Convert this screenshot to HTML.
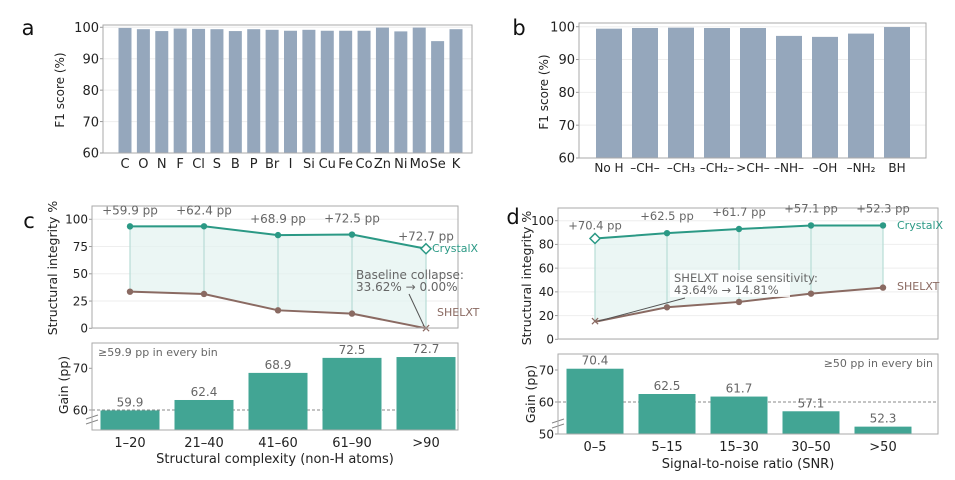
<!DOCTYPE html>
<html><head><meta charset="utf-8"><style>
body{margin:0;background:#fff}
svg{display:block;font-family:"DejaVu Sans","Liberation Sans",sans-serif}
</style></head><body>
<svg id="fig" width="955" height="480" viewBox="0 0 955 480"></svg>
<script>
const elemCats=["C","O","N","F","Cl","S","B","P","Br","I","Si","Cu","Fe","Co","Zn","Ni","Mo","Se","K"];
const elemVals=[99.8,99.4,98.8,99.6,99.5,99.4,98.8,99.4,99.2,98.9,99.2,98.9,98.9,98.9,99.9,98.7,99.9,95.6,99.4];
const hCats=["No H","–CH–","–CH₃","–CH₂–",">CH–","–NH–","–OH","–NH₂","BH"];
const hVals=[99.4,99.6,99.7,99.6,99.6,97.2,96.9,97.9,99.9];
const yTicksF1=[60,70,80,90,100];
const cCats=["1–20","21–40","41–60","61–90",">90"];
const cCrystal=[93.5,93.6,85.5,86,73];
const cShelx=[33.6,31.5,16.5,13.5,0];
const cGain=[59.9,62.4,68.9,72.5,72.7];
const cTopTicks=[0,25,50,75,100];
const cGainTicks=[60,70];
const dCats=["0–5","5–15","15–30","30–50",">50"];
const dCrystal=[85,89.5,93,96,96];
const dShelx=[14.8,27,31.5,38.5,43.6];
const dGain=[70.4,62.5,61.7,57.1,52.3];
const dTopTicks=[0,20,40,60,80,100];
const dGainTicks=[50,60,70];

const NS="http://www.w3.org/2000/svg";
const svg=document.getElementById('fig');
function mk(tag,attrs,parent,text){const e=document.createElementNS(NS,tag);for(const k in attrs)e.setAttribute(k,attrs[k]);if(text!==undefined)e.textContent=text;(parent||svg).appendChild(e);return e;}
function lin(d0,d1,r0,r1){return v=>r0+(v-d0)/(d1-d0)*(r1-r0);}
function band(n,x0,x1,pl,pr){const st=(x1-x0-pl-pr)/(n-1);return i=>x0+pl+i*st;}
const TEAL="#2b9985",BAR="#42a594",BROWN="#8a6a62",GRAY="#95a7bc",TXT="#222",GTXT="#666";

function frame(x0,y0,x1,y1,name){const r=mk('rect',{x:x0,y:y0,width:x1-x0,height:y1-y0,fill:'none',stroke:'#aaa','stroke-width':1});}
function yAxis(ticks,y,x0,x1,size,grid){ticks.forEach(t=>{const yy=y(t);if(grid){const g=mk('line',{x1:x0,x2:x1,y1:yy,y2:yy,stroke:'#eee'});}
const l=mk('line',{x1:x0-3,x2:x0,y1:yy,y2:yy,stroke:'#999'});
const t2=mk('text',{x:x0-4,y:yy+size*0.36,'text-anchor':'end','font-size':size,fill:TXT},undefined,t);});}
function txt(x,y,s,size,fill,anchor,name,rot){const a={x:x,y:y,'font-size':size,fill:fill,'text-anchor':anchor||'middle'};if(rot)a.transform=`rotate(-90 ${x} ${y})`;const t=mk('text',a,undefined,s);return t;}

// Panel a
(function(){const X0=103,X1=472,Y0=25,Y1=153;const y=lin(60,100,153,27.3);const x=band(elemCats.length,X0,X1,22,16);
yAxis(yTicksF1,y,X0,X1,13,true);
elemVals.forEach((v,i)=>{const b=mk('rect',{x:x(i)-6.5,y:y(v),width:13,height:Y1-y(v),fill:GRAY});
txt(x(i),168,elemCats[i],13,TXT,'middle','x-tick-label');});
frame(X0,Y0,X1,Y1,'plot-frame-a');
txt(64,90,'F1 score (%)',12,TXT,'middle','y-axis-title-a',true);
txt(28,35,'a',21,'#111','middle','panel-label-a');})();

// Panel b
(function(){const X0=579,X1=926,Y0=23,Y1=158;const y=lin(60,100,158,26.7);const x=band(hCats.length,X0,X1,30,29);
yAxis(yTicksF1,y,X0,X1,13,true);
hVals.forEach((v,i)=>{const b=mk('rect',{x:x(i)-13,y:y(v),width:26,height:Y1-y(v),fill:GRAY});
txt(x(i),172,hCats[i],12,TXT,'middle','x-tick-label');});
frame(X0,Y0,X1,Y1,'plot-frame-b');
txt(548,92,'F1 score (%)',12,TXT,'middle','y-axis-title-b',true);
txt(519,35,'b',21,'#111','middle','panel-label-b');})();

function linePanel(o){const{X0,X1,Y0,Y1,y,xs,crys,shel,ticks}=o;
yAxis(ticks,y,X0,X1,12,true);
let pts=crys.map((v,i)=>xs(i)+','+y(v)).join(' ')+' '+shel.map((v,i)=>xs(i)+','+y(v)).reverse().join(' ');
const f=mk('polygon',{points:pts,fill:'#e3f2ef','fill-opacity':0.7});
crys.forEach((v,i)=>{const l=mk('line',{x1:xs(i),x2:xs(i),y1:y(v),y2:y(shel[i]),stroke:'#b7ddd6','stroke-width':1.2});});
const lc=mk('polyline',{points:crys.map((v,i)=>xs(i)+','+y(v)).join(' '),fill:'none',stroke:TEAL,'stroke-width':2});
const ls=mk('polyline',{points:shel.map((v,i)=>xs(i)+','+y(v)).join(' '),fill:'none',stroke:BROWN,'stroke-width':2});
crys.forEach((v,i)=>{const cx=xs(i),cy=y(v);let p;if(i===o.hollow){p=mk('polygon',{points:`${cx},${cy-5} ${cx+5},${cy} ${cx},${cy+5} ${cx-5},${cy}`,fill:'#fff',stroke:TEAL,'stroke-width':1.5});}else p=mk('circle',{cx:cx,cy:cy,r:3.2,fill:TEAL});});
shel.forEach((v,i)=>{const cx=xs(i),cy=y(v);let p;if(i===o.hollow){p=mk('text',{x:cx,y:cy+4,'text-anchor':'middle','font-size':12,fill:BROWN,'font-weight':'bold'},undefined,'✕');}else p=mk('circle',{cx:cx,cy:cy,r:3.2,fill:BROWN});});
frame(X0,Y0,X1,Y1,o.name);}

function barPanel(o){const{X0,X1,Y0,Y1,y,xs,vals,cats,ticks,bw}=o;
yAxis(ticks,y,X0,X1,12,false);
const d=mk('line',{x1:X0,x2:X1,y1:y(60),y2:y(60),stroke:'#888','stroke-dasharray':'3,2'});
vals.forEach((v,i)=>{const b=mk('rect',{x:xs(i)-bw/2,y:y(v),width:bw,height:Y1-y(v),fill:BAR});
txt(xs(i),y(v)-4,v.toFixed(1),12,GTXT,'middle','bar-value-label');
txt(xs(i),Y1+17,cats[i],13,TXT,'middle','x-tick-label');});
const br=mk('path',{d:`M${X0-6},${Y1-6} l12,-4 M${X0-6},${Y1-11} l12,-4`,stroke:'#888',fill:'none'});
frame(X0,Y0,X1,Y1,o.name);}

// Panel c
(function(){const xs=band(5,92,458,38,32);const y=lin(0,100,328.3,219.3);
linePanel({X0:92,X1:458,Y0:206,Y1:328,y:y,xs:xs,crys:cCrystal,shel:cShelx,ticks:cTopTicks,hollow:4,name:'plot-frame-c-top'});
cGain.forEach((g,i)=>txt(xs(i),y(cCrystal[i])-(i===4?8:12),'+'+g.toFixed(1)+' pp',12,GTXT,'middle','gain-annotation'));
txt(432,252,'CrystalX',11,TEAL,'start','legend-crystalx');txt(437,316,'SHELXT',11,BROWN,'start','legend-shelxt');
txt(356,279,'Baseline collapse:',12,GTXT,'start','annotation-baseline');txt(356,291,'33.62% → 0.00%',12,GTXT,'start','annotation-baseline-values');
const a=mk('line',{x1:409,y1:294,x2:424,y2:326,stroke:'#555'});
txt(57,268,'Structural integrity %',12.5,TXT,'middle','y-axis-title-c',true);
txt(29,228,'c',21,'#111','middle','panel-label-c');
const yb=lin(60,70,410,368.3);
barPanel({X0:92,X1:458,Y0:343,Y1:430,y:yb,xs:xs,vals:cGain,cats:cCats,ticks:cGainTicks,bw:59,name:'plot-frame-c-bottom'});
txt(98,356,'≥59.9 pp in every bin',11,GTXT,'start','note-c');
txt(68,385,'Gain (pp)',12.5,TXT,'middle','y-axis-title-c-gain',true);
txt(275,463,'Structural complexity (non-H atoms)',13,TXT,'middle','x-axis-title-c');})();

// Panel d
(function(){const xs=band(5,558,938,37,55);const y=lin(0,100,339.3,220.7);
linePanel({X0:558,X1:938,Y0:208,Y1:339,y:y,xs:xs,crys:dCrystal,shel:dShelx,ticks:dTopTicks,hollow:0,name:'plot-frame-d-top'});
dGain.forEach((g,i)=>txt(xs(i),y(dCrystal[i])-(i===0?9:13),'+'+g.toFixed(1)+' pp',11.5,GTXT,'middle','gain-annotation'));
txt(897,229,'CrystalX',11,TEAL,'start','legend-crystalx');txt(897,290,'SHELXT',11,BROWN,'start','legend-shelxt');
const bg=mk('rect',{x:670,y:270,width:120,height:27,fill:'#fff','fill-opacity':0.85});
txt(674,282,'SHELXT noise sensitivity:',11.5,GTXT,'start','annotation-noise');txt(674,294,'43.64% → 14.81%',11.5,GTXT,'start','annotation-noise-values');
const a=mk('line',{x1:685,y1:298,x2:599,y2:321,stroke:'#555'});
txt(531,278,'Structural integrity %',12.5,TXT,'middle','y-axis-title-d',true);
txt(513,224,'d',21,'#111','middle','panel-label-d');
const yb=lin(50,70,434,370);
barPanel({X0:558,X1:938,Y0:354,Y1:434,y:yb,xs:xs,vals:dGain,cats:dCats,ticks:dGainTicks,bw:57,name:'plot-frame-d-bottom'});
txt(933,367,'≥50 pp in every bin',11,GTXT,'end','note-d');
txt(535,394,'Gain (pp)',12.5,TXT,'middle','y-axis-title-d-gain',true);
txt(748,468,'Signal-to-noise ratio (SNR)',13,TXT,'middle','x-axis-title-d');})();
</script>
</body></html>
